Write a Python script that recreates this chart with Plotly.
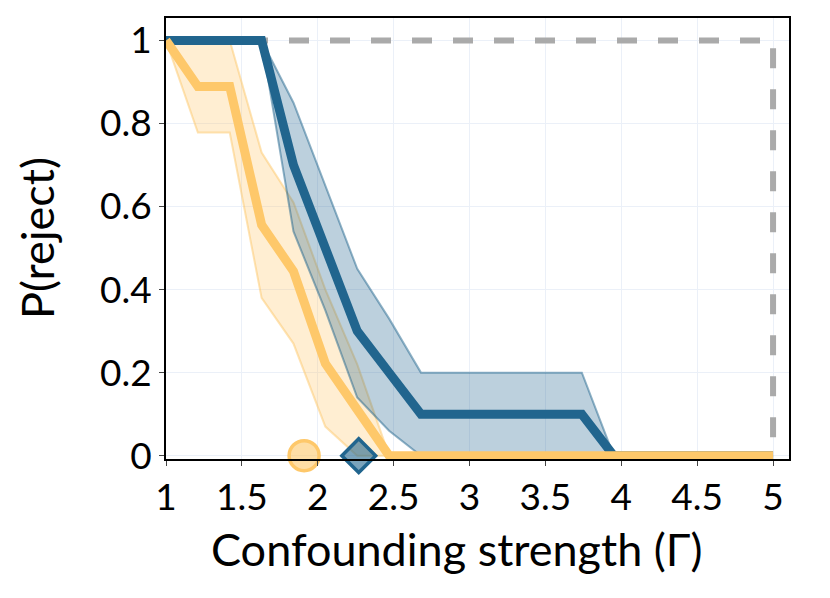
import plotly.graph_objects as go

# confounding strength grid
gamma = [1.0, 1.21, 1.42, 1.63, 1.84, 2.05, 2.26, 2.47, 2.68, 2.89,
         3.11, 3.32, 3.53, 3.74, 3.95, 4.16, 4.37, 4.58, 4.79, 5.0]

# blue method: mean and band
blue_mean = [1, 1, 1, 1, 0.7, 0.5, 0.3, 0.2, 0.1, 0.1,
             0.1, 0.1, 0.1, 0.1, 0, 0, 0, 0, 0, 0]
blue_upper = [1, 1, 1, 1, 0.85, 0.65, 0.45, 0.33, 0.2, 0.2,
              0.2, 0.2, 0.2, 0.2, 0, 0, 0, 0, 0, 0]
blue_lower = [1, 1, 1, 1, 0.54, 0.35, 0.14, 0.06, 0, 0,
              0, 0, 0, 0, 0, 0, 0, 0, 0, 0]

# orange method: mean and band
orange_mean = [1, 0.889, 0.889, 0.556, 0.444, 0.222, 0.111, 0, 0, 0,
               0, 0, 0, 0, 0, 0, 0, 0, 0, 0]
orange_upper = [1, 1, 1, 0.73, 0.61, 0.4, 0.22, 0, 0, 0,
                0, 0, 0, 0, 0, 0, 0, 0, 0, 0]
orange_lower = [1, 0.778, 0.778, 0.38, 0.27, 0.07, 0, 0, 0, 0,
                0, 0, 0, 0, 0, 0, 0, 0, 0, 0]

# oracle reference (dashed)
oracle_x = [1, 5, 5]
oracle_y = [1, 1, 0]

# estimated thresholds
orange_threshold = 1.91
blue_threshold = 2.27

x_ticks = [1, 1.5, 2, 2.5, 3, 3.5, 4, 4.5, 5]
x_tick_labels = ["1", "1.5", "2", "2.5", "3", "3.5", "4", "4.5", "5"]
y_ticks = [0, 0.2, 0.4, 0.6, 0.8, 1]
y_tick_labels = ["0", "0.2", "0.4", "0.6", "0.8", "1"]

blue = "#21658e"
orange = "#fec86a"
font_name = "Lato"

figure = go.Figure()

figure.add_trace(go.Scatter(
    x = oracle_x, y = oracle_y, mode = "lines",
    line = dict(color = "#aaaaaa", width = 6, dash = "20px,21px"),
    showlegend = False
))

for upper, lower, colour_rgb in [
    (orange_upper, orange_lower, "254,200,106"),
    (blue_upper, blue_lower, "33,101,142"),
]:
    figure.add_trace(go.Scatter(
        x = gamma, y = upper, mode = "lines",
        line = dict(color = "rgba(" + colour_rgb + ",0.5)", width = 2),
        showlegend = False
    ))
    figure.add_trace(go.Scatter(
        x = gamma, y = lower, mode = "lines", fill = "tonexty",
        fillcolor = "rgba(" + colour_rgb + ",0.3)",
        line = dict(color = "rgba(" + colour_rgb + ",0.5)", width = 2),
        showlegend = False
    ))

figure.add_trace(go.Scatter(
    x = gamma, y = blue_mean, mode = "lines",
    line = dict(color = blue, width = 9),
    showlegend = False
))
figure.add_trace(go.Scatter(
    x = gamma, y = orange_mean, mode = "lines",
    line = dict(color = orange, width = 9),
    showlegend = False
))

figure.add_trace(go.Scatter(
    x = [orange_threshold], y = [0], mode = "markers",
    marker = dict(symbol = "circle", size = 30, color = "rgba(254,200,106,0.6)",
                  line = dict(color = orange, width = 3.5)),
    cliponaxis = False, showlegend = False
))
figure.add_trace(go.Scatter(
    x = [blue_threshold], y = [0], mode = "markers",
    marker = dict(symbol = "diamond", size = 26, color = "rgba(33,101,142,0.6)",
                  line = dict(color = blue, width = 3.5)),
    cliponaxis = False, showlegend = False
))

axis_style = dict(
    showline = True, linecolor = "black", linewidth = 2, mirror = True,
    ticks = "outside", ticklen = 5, tickcolor = "#444444",
    gridcolor = "#EBF0F8", zeroline = False,
    tickfont = dict(size = 37, color = "black", family = font_name),
)

figure.update_layout(
    template = "plotly_white",
    width = 830, height = 598,
    margin = dict(l = 158, r = 49, t = 8, b = 147),
    font = dict(family = font_name, color = "black"),
    plot_bgcolor = "white",
)
figure.update_xaxes(range = [1, 5.105], tickvals = x_ticks, ticktext = x_tick_labels, **axis_style)
figure.update_yaxes(range = [-0.008, 1.054], tickvals = y_ticks, ticktext = y_tick_labels, **axis_style)

figure.add_annotation(
    text = "Confounding strength (Γ)", xref = "paper", yref = "paper",
    x = 0.467, y = -0.205, xanchor = "center", yanchor = "middle",
    showarrow = False, font = dict(size = 45, family = font_name, color = "black")
)
figure.add_annotation(
    text = "P(reject)", xref = "paper", yref = "paper", textangle = -90,
    x = -0.207, y = 0.501, xanchor = "center", yanchor = "middle",
    showarrow = False, font = dict(size = 45, family = font_name, color = "black")
)

figure.write_html("out.html")
